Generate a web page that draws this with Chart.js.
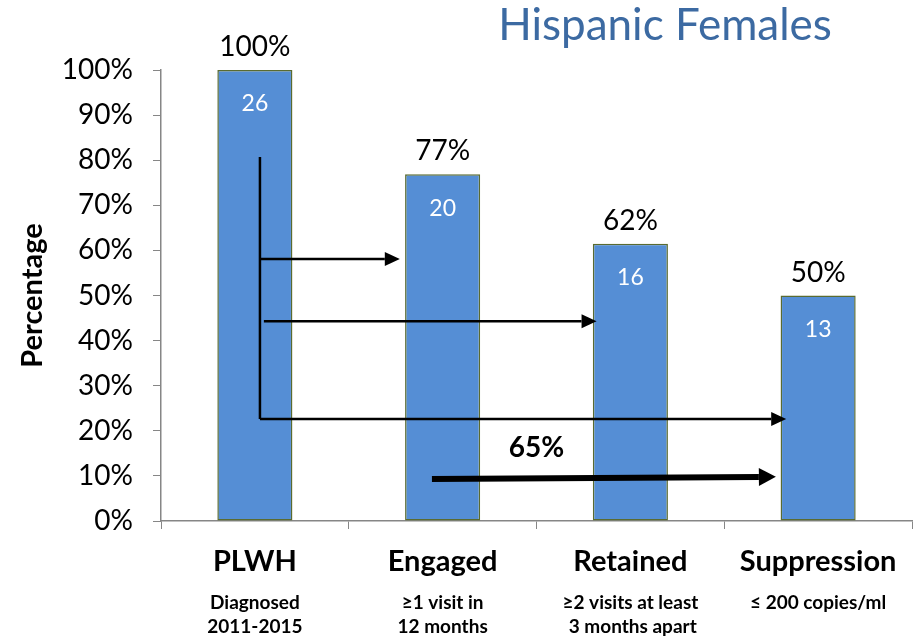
<!DOCTYPE html>
<html>
<head>
<meta charset="utf-8">
<script src="https://cdn.jsdelivr.net/npm/chart.js@4"></script>
<style>
  html, body { margin: 0; padding: 0; background: #fff; }
  #wrap { width: 919px; height: 636px; }
</style>
</head>
<body>
<div id="wrap"><canvas id="cascadeChart"></canvas></div>
<script>
// data
var stages = ['PLWH', 'Engaged', 'Retained', 'Suppression'];
var stageNotes = [['Diagnosed', '2011-2015'], ['\u22651 visit in', '12 months'], ['\u22652 visits at least', ' 3 months apart'], ['\u2264 200 copies/ml']];
var counts = [26, 20, 16, 13];
var percents = [100, 76.9, 61.5, 50];
var percentLabels = ['100%', '77%', '62%', '50%'];

// arrows in data units: [fromIndex, fromPct, toIndex, toPct]
var connectorLine = [0.027, 80.7, 0.027, 22.6];
var thinArrows = [
    [0.027, 58.1, 0.772, 58.1],
    [0.048, 44.3, 1.82, 44.3],
    [0.027, 22.6, 2.83, 22.6]
];
var thickArrow = [0.943, 9.3, 2.775, 9.8];
var overallLabel = { text: '65%', x: 1.5, y: 16.2 };

var FONT = 'Lato, "Open Sans", sans-serif';

function drawArrow(c, x1, y1, x2, y2, width, headLen, headHalf) {
    var ang = Math.atan2(y2 - y1, x2 - x1);
    var bx = x2 - headLen * Math.cos(ang);
    var by = y2 - headLen * Math.sin(ang);
    c.beginPath();
    c.lineWidth = width;
    c.moveTo(x1, y1);
    c.lineTo(bx, by);
    c.stroke();
    c.beginPath();
    c.moveTo(x2, y2);
    c.lineTo(bx + headHalf * Math.sin(ang), by - headHalf * Math.cos(ang));
    c.lineTo(bx - headHalf * Math.sin(ang), by + headHalf * Math.cos(ang));
    c.closePath();
    c.fill();
}

var cascadeExtras = {
    id: 'cascadeExtras',
    afterDatasetsDraw: function (chart) {
        var c = chart.ctx;
        var xs = chart.scales.x, ys = chart.scales.y;
        var meta = chart.getDatasetMeta(0);
        c.save();
        // labels on bars
        c.textAlign = 'center';
        meta.data.forEach(function (bar, i) {
            c.fillStyle = '#000';
            c.font = '28px ' + FONT;
            c.textBaseline = 'middle';
            c.fillText(percentLabels[i], bar.x, bar.y - 23);
            c.fillStyle = '#fff';
            c.font = '23px ' + FONT;
            c.fillText(String(counts[i]), bar.x, bar.y + 34);
        });
        // arrows
        c.strokeStyle = '#000';
        c.fillStyle = '#000';
        c.lineCap = 'butt';
        c.beginPath();
        c.lineWidth = 2.5;
        c.moveTo(xs.getPixelForValue(connectorLine[0]), ys.getPixelForValue(connectorLine[1]));
        c.lineTo(xs.getPixelForValue(connectorLine[2]), ys.getPixelForValue(connectorLine[3]));
        c.stroke();
        thinArrows.forEach(function (a) {
            drawArrow(c, xs.getPixelForValue(a[0]), ys.getPixelForValue(a[1]),
                xs.getPixelForValue(a[2]), ys.getPixelForValue(a[3]), 2.5, 15, 7);
        });
        drawArrow(c, xs.getPixelForValue(thickArrow[0]), ys.getPixelForValue(thickArrow[1]),
            xs.getPixelForValue(thickArrow[2]), ys.getPixelForValue(thickArrow[3]), 6, 17, 9);
        c.font = 'bold 28px ' + FONT;
        c.textBaseline = 'middle';
        c.fillText(overallLabel.text, xs.getPixelForValue(overallLabel.x), ys.getPixelForValue(overallLabel.y));
        // title
        c.fillStyle = '#3c6aa2';
        c.font = '44px ' + FONT;
        c.textBaseline = 'alphabetic';
        c.fillText('Hispanic Females', chart.chartArea.right - 247, 40);
        c.restore();
    }
};

var ctx = document.getElementById('cascadeChart').getContext('2d');
var cascadeChart = new Chart(ctx, {
    type: 'bar',
    data: {
        labels: stages,
        datasets: [{
            data: percents,
            backgroundColor: '#558ed5',
            borderColor: '#5a6b30',
            borderWidth: 1.5,
            borderSkipped: false,
            barPercentage: 0.4,
            categoryPercentage: 1.0
        }]
    },
    options: {
        responsive: true,
        maintainAspectRatio: false,
        animation: false,
        layout: { padding: { top: 70, right: 7, left: 1, bottom: 0 } },
        plugins: {
            legend: { display: false },
            tooltip: { enabled: false }
        },
        scales: {
            x: {
                type: 'category',
                offset: true,
                grid: { offset: true, drawOnChartArea: false, tickLength: 8, color: '#868686' },
                border: { color: '#868686', width: 1.5 },
                ticks: { font: { family: FONT, size: 29, weight: 'bold' }, color: '#000', padding: 15 },
                afterFit: function (scale) { scale.height = 58; }
            },
            x2: {
                type: 'category',
                labels: stageNotes,
                position: 'bottom',
                offset: true,
                grid: { display: false, drawTicks: false },
                border: { display: false },
                ticks: { font: { family: FONT, size: 19, weight: 'bold', lineHeight: 1.25 }, color: '#000', padding: 12 },
                afterFit: function (scale) { scale.height = 57; }
            },
            y: {
                min: 0,
                max: 100,
                grid: { drawOnChartArea: false, tickLength: 8, color: '#868686' },
                border: { color: '#868686', width: 1.5 },
                ticks: {
                    stepSize: 10,
                    font: { family: FONT, size: 28 },
                    color: '#000',
                    padding: 20,
                    callback: function (v) { return v + '%'; }
                },
                title: {
                    display: true,
                    text: 'Percentage',
                    font: { family: FONT, size: 29, weight: 'bold' },
                    color: '#000',
                    padding: 14
                },
                afterFit: function (scale) { scale.width = 160; }
            }
        }
    },
    plugins: [cascadeExtras]
});
</script>
</body>
</html>
